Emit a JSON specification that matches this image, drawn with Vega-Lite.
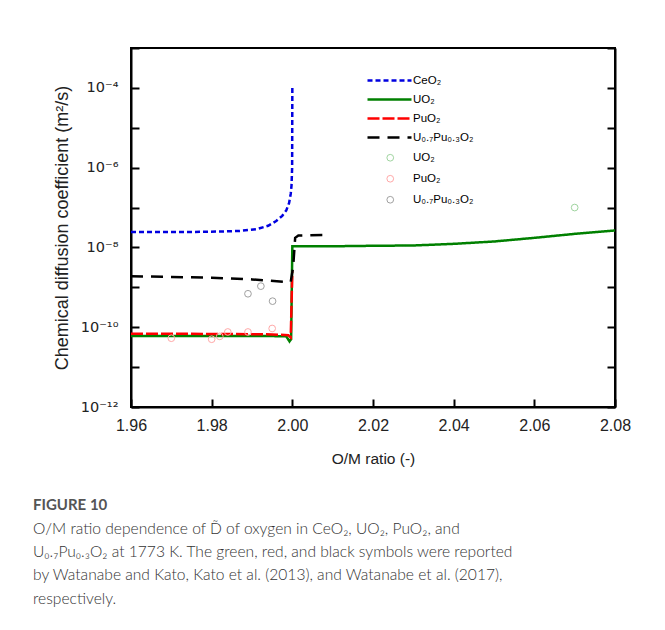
{
  "$schema": "https://vega.github.io/schema/vega-lite/v6.json",
  "width": 484,
  "height": 359,
  "autosize": {"type": "none"},
  "padding": {"left": 131, "top": 48, "right": 50, "bottom": 223},
  "background": "white",
  "config": {
    "font": "Liberation Sans",
    "view": {"stroke": "black", "strokeWidth": 2},
    "axis": {
      "grid": false, "domainColor": "black", "domainWidth": 2,
      "tickColor": "black", "tickWidth": 2, "tickSize": -8,
      "labelFont": "Liberation Sans", "labelFontSize": 16, "labelColor": "#222222",
      "titleFont": "Liberation Sans", "titleFontSize": 15.5, "titleFontWeight": "normal", "titleColor": "#222222",
      "labelOverlap": false, "labelFlush": false
    }
  },
  "title": {
    "text": "FIGURE 10",
    "subtitle": [
      "O/M ratio dependence of D̃ of oxygen in CeO₂, UO₂, PuO₂, and",
      "U₀.₇Pu₀.₃O₂ at 1773 K. The green, red, and black symbols were reported",
      "by Watanabe and Kato, Kato et al. (2013), and Watanabe et al. (2017),",
      "respectively."
    ],
    "orient": "bottom", "anchor": "start", "frame": "group", "dx": -98, "offset": 31,
    "font": "Lato", "fontSize": 15, "fontWeight": "bold", "color": "#555555",
    "subtitleFont": "Lato", "subtitleFontSize": 15.6, "subtitleFontWeight": 300, "subtitleColor": "#333333",
    "subtitleLineHeight": 23.4, "subtitlePadding": 9
  },
  "datasets": {
    "lines": [
      {"s": "CeO₂", "x": 1.96, "y": 2.45e-8},
      {"s": "CeO₂", "x": 1.975, "y": 2.45e-8},
      {"s": "CeO₂", "x": 1.982, "y": 2.5e-8},
      {"s": "CeO₂", "x": 1.987, "y": 2.6e-8},
      {"s": "CeO₂", "x": 1.991, "y": 2.85e-8},
      {"s": "CeO₂", "x": 1.994, "y": 3.5e-8},
      {"s": "CeO₂", "x": 1.996, "y": 4.6e-8},
      {"s": "CeO₂", "x": 1.9975, "y": 6.2e-8},
      {"s": "CeO₂", "x": 1.9985, "y": 8.5e-8},
      {"s": "CeO₂", "x": 1.9992, "y": 1.3e-7},
      {"s": "CeO₂", "x": 1.9996, "y": 2.2e-7},
      {"s": "CeO₂", "x": 1.9998, "y": 3.6e-7},
      {"s": "CeO₂", "x": 1.99995, "y": 1.0e-6},
      {"s": "CeO₂", "x": 2.0, "y": 1.1e-4},
      {"s": "UO₂", "x": 1.96, "y": 6.0e-11},
      {"s": "UO₂", "x": 1.98, "y": 6.0e-11},
      {"s": "UO₂", "x": 1.995, "y": 6.0e-11},
      {"s": "UO₂", "x": 1.9985, "y": 5.9e-11},
      {"s": "UO₂", "x": 1.9993, "y": 4.4e-11},
      {"s": "UO₂", "x": 1.9997, "y": 5.0e-11},
      {"s": "UO₂", "x": 2.0, "y": 1.07e-8},
      {"s": "UO₂", "x": 2.01, "y": 1.07e-8},
      {"s": "UO₂", "x": 2.02, "y": 1.1e-8},
      {"s": "UO₂", "x": 2.03, "y": 1.12e-8},
      {"s": "UO₂", "x": 2.04, "y": 1.23e-8},
      {"s": "UO₂", "x": 2.05, "y": 1.41e-8},
      {"s": "UO₂", "x": 2.06, "y": 1.74e-8},
      {"s": "UO₂", "x": 2.07, "y": 2.19e-8},
      {"s": "UO₂", "x": 2.08, "y": 2.66e-8},
      {"s": "PuO₂", "x": 1.96, "y": 6.9e-11},
      {"s": "PuO₂", "x": 1.98, "y": 6.8e-11},
      {"s": "PuO₂", "x": 1.995, "y": 6.6e-11},
      {"s": "PuO₂", "x": 1.999, "y": 6.3e-11},
      {"s": "PuO₂", "x": 1.9996, "y": 5.6e-11},
      {"s": "PuO₂", "x": 2.0, "y": 2.5e-9},
      {"s": "U₀.₇Pu₀.₃O₂", "x": 1.96, "y": 1.9e-9},
      {"s": "U₀.₇Pu₀.₃O₂", "x": 1.97, "y": 1.82e-9},
      {"s": "U₀.₇Pu₀.₃O₂", "x": 1.98, "y": 1.74e-9},
      {"s": "U₀.₇Pu₀.₃O₂", "x": 1.99, "y": 1.58e-9},
      {"s": "U₀.₇Pu₀.₃O₂", "x": 1.998, "y": 1.38e-9},
      {"s": "U₀.₇Pu₀.₃O₂", "x": 1.9996, "y": 1.38e-9},
      {"s": "U₀.₇Pu₀.₃O₂", "x": 2.0002, "y": 3.2e-9},
      {"s": "U₀.₇Pu₀.₃O₂", "x": 2.0007, "y": 1.74e-8},
      {"s": "U₀.₇Pu₀.₃O₂", "x": 2.0015, "y": 2.0e-8},
      {"s": "U₀.₇Pu₀.₃O₂", "x": 2.008, "y": 2.04e-8}
    ],
    "points": [
      {"s": "UO₂", "x": 2.07, "y": 1.0e-7},
      {"s": "PuO₂", "x": 1.97, "y": 5.3e-11},
      {"s": "PuO₂", "x": 1.98, "y": 5.0e-11},
      {"s": "PuO₂", "x": 1.982, "y": 5.9e-11},
      {"s": "PuO₂", "x": 1.984, "y": 7.6e-11},
      {"s": "PuO₂", "x": 1.989, "y": 7.6e-11},
      {"s": "PuO₂", "x": 1.995, "y": 9.3e-11},
      {"s": "U₀.₇Pu₀.₃O₂", "x": 1.989, "y": 6.9e-10},
      {"s": "U₀.₇Pu₀.₃O₂", "x": 1.9922, "y": 1.07e-9},
      {"s": "U₀.₇Pu₀.₃O₂", "x": 1.9951, "y": 4.5e-10}
    ]
  },
  "layer": [
    {
      "data": {"name": "lines"},
      "mark": {"type": "line", "strokeWidth": 2.5, "clip": true},
      "encoding": {
        "x": {"field": "x", "type": "quantitative",
          "scale": {"domain": [1.96, 2.08], "nice": false, "zero": false},
          "axis": {"values": [1.96, 1.98, 2.0, 2.02, 2.04, 2.06, 2.08], "format": ".2f", "title": "O/M ratio (-)", "labelPadding": 18, "titlePadding": 18}},
        "y": {"field": "y", "type": "quantitative",
          "scale": {"type": "log", "domain": [1e-12, 1e-3], "nice": false},
          "axis": {"values": [1e-12, 1e-11, 1e-10, 1e-9, 1e-8, 1e-7, 1e-6, 1e-5, 1e-4, 1e-3],
            "labelExpr": "round(log(datum.value)/LN10) == -4 ? '10⁻⁴' : round(log(datum.value)/LN10) == -6 ? '10⁻⁶' : round(log(datum.value)/LN10) == -8 ? '10⁻⁸' : round(log(datum.value)/LN10) == -10 ? '10⁻¹⁰' : round(log(datum.value)/LN10) == -12 ? '10⁻¹²' : ''",
            "labelFont": "DejaVu Sans", "labelFontSize": 14.5,
            "labelPadding": 21, "title": "Chemical diffusion coefficient (m²/s)", "titleFontSize": 18, "titlePadding": 9}},
        "color": {"field": "s", "type": "nominal",
          "scale": {"domain": ["CeO₂", "UO₂", "PuO₂", "U₀.₇Pu₀.₃O₂"], "range": ["#0000e0", "#008000", "#ff0000", "#000000"]},
          "legend": {"title": null, "orient": "none", "legendX": 252, "legendY": 26, "symbolType": "M-4.4,0H4.4", "symbolSize": 100, "symbolStrokeWidth": 2.5, "labelFont": "Liberation Sans", "labelFontSize": 11.5, "labelColor": "black", "labelOffset": 17, "rowPadding": 7, "padding": 0}},
        "strokeDash": {"field": "s", "type": "nominal",
          "scale": {"domain": ["CeO₂", "UO₂", "PuO₂", "U₀.₇Pu₀.₃O₂"], "range": [[5, 3], [1, 0], [12, 3], [12, 8]]},
          "legend": {"title": null, "orient": "none", "legendX": 252, "legendY": 26, "symbolType": "M-4.4,0H4.4", "symbolSize": 100, "symbolStrokeWidth": 2.5, "labelFont": "Liberation Sans", "labelFontSize": 11.5, "labelColor": "black", "labelOffset": 17, "rowPadding": 7, "padding": 0}}
      }
    },
    {
      "data": {"name": "points"},
      "mark": {"type": "point", "filled": false, "size": 45, "strokeWidth": 1, "opacity": 1},
      "encoding": {
        "x": {"field": "x", "type": "quantitative",
          "scale": {"domain": [1.96, 2.08], "nice": false, "zero": false},
          "axis": {"values": [1.96, 1.98, 2.0, 2.02, 2.04, 2.06, 2.08], "format": ".2f", "title": "O/M ratio (-)", "labelPadding": 18, "titlePadding": 18}},
        "y": {"field": "y", "type": "quantitative",
          "scale": {"type": "log", "domain": [1e-12, 1e-3], "nice": false},
          "axis": {"orient": "right", "labels": false, "title": null, "values": [1e-12, 1e-11, 1e-10, 1e-9, 1e-8, 1e-7, 1e-6, 1e-5, 1e-4, 1e-3]}},
        "stroke": {"field": "s", "type": "nominal",
          "scale": {"domain": ["UO₂", "PuO₂", "U₀.₇Pu₀.₃O₂"], "range": ["#9fd49f", "#ffa8a8", "#a0a0a0"]},
          "legend": {"title": null, "orient": "none", "legendX": 253.5, "legendY": 104, "symbolSize": 45, "symbolStrokeWidth": 1, "labelFont": "Liberation Sans", "labelFontSize": 11.5, "labelColor": "black", "labelOffset": 17, "rowPadding": 8, "padding": 0}}
      }
    }
  ],
  "resolve": {"axis": {"y": "independent"}}
}
